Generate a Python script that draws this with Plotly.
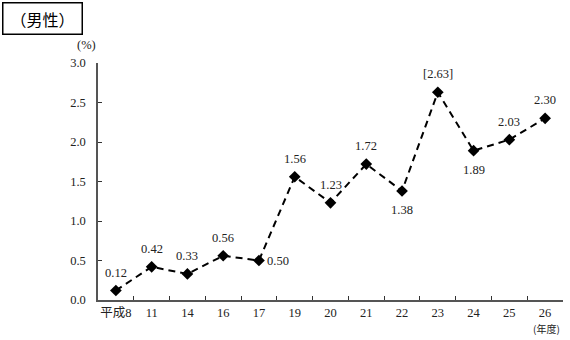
import plotly.graph_objects as go

categories = ["平成8", "11", "14", "16", "17", "19", "20", "21", "22", "23", "24", "25", "26"]
values = [0.12, 0.42, 0.33, 0.56, 0.50, 1.56, 1.23, 1.72, 1.38, 2.63, 1.89, 2.03, 2.30]
labels = ["0.12", "0.42", "0.33", "0.56", "0.50", "1.56", "1.23", "1.72", "1.38", "[2.63]", "1.89", "2.03", "2.30"]
label_pos = ["top", "top", "top", "top", "right", "top", "top", "top", "bottom", "top",
             "bottom", "top", "top"]

L, R, T, B = 98, 7, 63, 40
W, H = 570, 340
pw, ph = W - L - R, H - T - B

def px(x):
    return (x - L) / pw

def py(y):
    return (H - B - y) / ph

serif = "Liberation Serif, Noto Sans CJK JP, serif"

fig = go.Figure()
fig.add_trace(go.Scatter(
    x=categories, y=values, mode="lines+markers",
    line=dict(color="black", width=2, dash="7px,5px"),
    marker=dict(symbol="diamond", size=9, color="black"),
    cliponaxis=False, showlegend=False, hoverinfo="x+y",
))

shifts = {"top": (0, 18), "bottom": (0, -19), "right": (19, 0)}
annotations = []
for i, (v, t, p) in enumerate(zip(values, labels, label_pos)):
    xs, ys = shifts[p]
    annotations.append(dict(
        x=i, y=v, text=t, showarrow=False, xshift=xs, yshift=ys,
        font=dict(family=serif, size=12.5, color="#222"),
        xanchor="center", yanchor="middle",
    ))

annotations += [
    dict(text="（男性）", xref="paper", yref="paper", x=px(42.5), y=py(18.5),
         showarrow=False, font=dict(family="Noto Sans CJK JP", size=16, color="black"),
         bordercolor="black", borderwidth=1.5, borderpad=0, width=78, height=30,
         xanchor="center", yanchor="middle"),
    dict(text="(%)", xref="paper", yref="paper", x=px(86), y=py(45),
         showarrow=False, font=dict(family=serif, size=12.5, color="#222"),
         xanchor="center", yanchor="middle"),
    dict(text="(年度)", xref="paper", yref="paper", x=px(546), y=py(328),
         showarrow=False, font=dict(family="Noto Sans CJK JP", size=10, color="#222"),
         xanchor="center", yanchor="middle"),
]

fig.update_layout(
    width=W, height=H,
    margin=dict(l=L, r=R, t=T, b=B),
    paper_bgcolor="white", plot_bgcolor="white",
    xaxis=dict(
        type="category", range=[-0.5, 12.5], tickson="boundaries", tickangle=0,
        ticks="inside", ticklen=4, tickwidth=1.2, tickcolor="#333",
        showline=True, linecolor="#555", linewidth=1.5, showgrid=False,
        tickfont=dict(family=serif, size=12.5, color="#222"), zeroline=False,
    ),
    yaxis=dict(
        range=[0, 3.0], tickvals=[0, 0.5, 1.0, 1.5, 2.0, 2.5, 3.0],
        ticktext=["0.0", "0.5", "1.0", "1.5", "2.0", "2.5", "3.0"],
        ticks="inside", ticklen=4, tickwidth=1.2, tickcolor="#333",
        showline=True, linecolor="#555", linewidth=1.5, showgrid=False,
        zeroline=False, ticklabelstandoff=8,
        tickfont=dict(family=serif, size=12.5, color="#222"),
    ),
    annotations=annotations,
)

fig.write_html("out.html")
